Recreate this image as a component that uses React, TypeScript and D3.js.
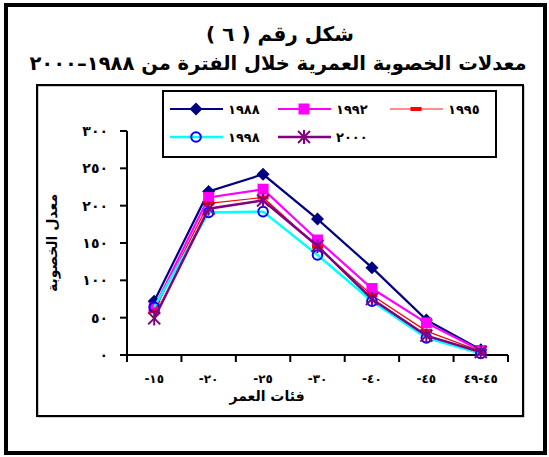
import React from "react";
import * as d3 from "d3";

const categories = ["-١٥", "-٢٠", "-٢٥", "-٣٠", "-٤٠", "-٤٥", "٤٩-٤٥"];
const yTicks = [0, 50, 100, 150, 200, 250, 300];
const yTickLabels = ["٠", "٥٠", "١٠٠", "١٥٠", "٢٠٠", "٢٥٠", "٣٠٠"];
const seriesNames = ["١٩٨٨", "١٩٩٢", "١٩٩٥", "١٩٩٨", "٢٠٠٠"];
const s1988 = [72, 219, 242, 182, 117, 47, 7];
const s1992 = [63, 211, 222, 154, 89, 43, 6];
const s1995 = [59, 203, 211, 145, 80, 32, 5];
const s1998 = [64, 191, 192, 134, 72, 23, 2];
const s2000 = [49, 196, 207, 146, 75, 26, 4];
const titleLine1 = "شكل رقم ( ٦ )";
const titleLine2 = "معدلات الخصوبة العمرية خلال الفترة من ١٩٨٨–٢٠٠٠";
const yTitle = "معدل الخصوبة";
const xTitle = "فئات العمر";

const styles = [
  { line: "#000080", width: 2.2, marker: "diamond", mc: "#000080" },
  { line: "#ff00ff", width: 2.2, marker: "square", mc: "#ff00ff" },
  { line: "#ff0000", width: 1.2, marker: "dash", mc: "#ff0000" },
  { line: "#00ffff", width: 2.5, marker: "circle", mc: "#0000ff" },
  { line: "#800080", width: 2.5, marker: "star", mc: "#800080" },
];
const allSeries = [s1988, s1992, s1995, s1998, s2000];

function Marker({ type, x, y, c }: { type: string; x: number; y: number; c: string }) {
  if (type === "diamond")
    return <path d={`M${x},${y - 6.5}L${x + 6.5},${y}L${x},${y + 6.5}L${x - 6.5},${y}Z`} fill={c} />;
  if (type === "square") return <rect x={x - 5.5} y={y - 5.5} width={11} height={11} fill={c} />;
  if (type === "dash") return <rect x={x - 5.5} y={y - 2} width={11} height={4} fill={c} />;
  if (type === "circle") return <circle cx={x} cy={y} r={4.8} fill="none" stroke={c} strokeWidth={2} />;
  const r = 6;
  return (
    <g stroke={c} strokeWidth={2}>
      <line x1={x - r} y1={y - r} x2={x + r} y2={y + r} />
      <line x1={x - r} y1={y + r} x2={x + r} y2={y - r} />
      <line x1={x} y1={y - r - 1} x2={x} y2={y + r + 1} />
    </g>
  );
}

export default function App() {
  const W = 549, H = 457;
  const x = d3.scaleBand<string>().domain(categories).range([127, 508]);
  const y = d3.scaleLinear().domain([0, 300]).range([355, 131]);
  const font = "'DejaVu Sans', sans-serif";
  const line = d3.line<number>()
    .x((_, i) => (x(categories[i]) as number) + x.bandwidth() / 2)
    .y((d) => y(d));

  const legendPos = [
    { lx: 170, ly: 109 },
    { lx: 278, ly: 109 },
    { lx: 390, ly: 109 },
    { lx: 170, ly: 137 },
    { lx: 278, ly: 137 },
  ];

  return (
    <svg width={W} height={H} style={{ position: "absolute", left: 0, top: 0 }} fontFamily={font}>
      <rect x={0} y={0} width={W} height={H} fill="#fff" />
      <rect x={6} y={5} width={539} height={448} fill="none" stroke="#000" strokeWidth={4} />
      <text x={280} y={41} textAnchor="middle" direction="rtl" fontSize={20} fontWeight="bold">{titleLine1}</text>
      <text x={278} y={70} textAnchor="middle" direction="rtl" fontSize={19.5} fontWeight="bold">{titleLine2}</text>
      <rect x={38} y={86} width={486} height={331} fill="none" stroke="#999" strokeWidth={1} />
      <rect x={37} y={85} width={486} height={331} fill="none" stroke="#000" strokeWidth={2} />

      {/* axes */}
      <line x1={127} y1={y(300)} x2={127} y2={355} stroke="#000" strokeWidth={2} />
      <line x1={127} y1={355} x2={508} y2={355} stroke="#000" strokeWidth={2} />
      {yTicks.map((t, i) => (
        <g key={t}>
          <line x1={120} x2={127} y1={y(t)} y2={y(t)} stroke="#000" strokeWidth={2} />
          <text x={108} y={y(t) + 5} textAnchor="end" fontSize={14} fontWeight="bold" letterSpacing={2.5}>{yTickLabels[i]}</text>
        </g>
      ))}
      {[...categories.map((c) => x(c) as number), 508].map((v, i) => (
        <line key={i} x1={v} x2={v} y1={355} y2={362} stroke="#000" strokeWidth={2} />
      ))}
      {categories.map((c) => (
        <text key={c} x={(x(c) as number) + x.bandwidth() / 2} y={383} textAnchor="middle" fontSize={12} fontWeight="bold"
          letterSpacing={1.5} style={{ direction: "ltr", unicodeBidi: "bidi-override" }}>{c}</text>
      ))}
      <text x={267} y={401} textAnchor="middle" direction="rtl" fontSize={14} fontWeight="bold">{xTitle}</text>
      <text transform={`translate(57,243) rotate(-90)`} textAnchor="middle" direction="rtl" fontSize={14} fontWeight="bold">{yTitle}</text>

      {/* series */}
      {allSeries.map((s, si) => (
        <g key={si}>
          <path d={line(s) as string} fill="none" stroke={styles[si].line} strokeWidth={styles[si].width} />
          {s.map((v, i) => (
            <Marker key={i} type={styles[si].marker} x={(x(categories[i]) as number) + x.bandwidth() / 2} y={y(v)} c={styles[si].mc} />
          ))}
        </g>
      ))}

      {/* legend */}
      <rect x={163} y={91} width={333} height={66} fill="#fff" stroke="#000" strokeWidth={2} />
      {seriesNames.map((n, si) => {
        const p = legendPos[si];
        return (
          <g key={n}>
            <line x1={p.lx} x2={p.lx + 53} y1={p.ly} y2={p.ly} stroke={styles[si].line}
              strokeWidth={si === 2 ? 1.5 : styles[si].width} strokeOpacity={si === 2 ? 0.6 : 1} />
            <Marker type={styles[si].marker} x={p.lx + 26} y={p.ly} c={styles[si].mc} />
            <text x={p.lx + 58} y={p.ly + 5} fontSize={13} fontWeight="bold" letterSpacing={4.5}
              style={{ direction: "ltr", unicodeBidi: "bidi-override" }}>{n}</text>
          </g>
        );
      })}
    </svg>
  );
}
